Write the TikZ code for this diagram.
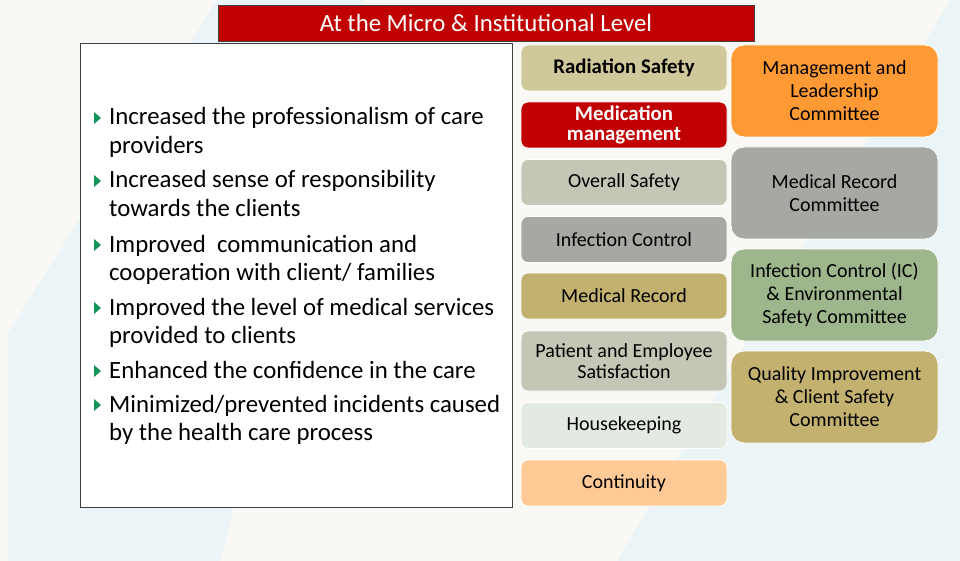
\documentclass[tikz,border=0pt]{standalone}
\usepackage{fontspec}
\setmainfont{Carlito}
\usetikzlibrary{calc}

\definecolor{bgwhite}{HTML}{F9F8F4}
\definecolor{bgblue}{HTML}{EBF5F8}
\definecolor{titlered}{HTML}{C00000}
\definecolor{edgegray}{HTML}{404040}
\definecolor{tickgreen}{HTML}{12955A}
\definecolor{sand}{HTML}{CFC89A}
\definecolor{sage}{HTML}{C4C6B6}
\definecolor{stone}{HTML}{A5A8A3}
\definecolor{khaki}{HTML}{C3B170}
\definecolor{mist}{HTML}{E2EAE2}
\definecolor{peach}{HTML}{FFCA95}
\definecolor{amber}{HTML}{FF9933}
\definecolor{moss}{HTML}{9EB68C}

\begin{document}
\begin{tikzpicture}[x=1pt,y=-1pt,
  box/.style={rounded corners=7pt, draw=white, line width=0.8pt, minimum width=206pt,
    minimum height=46pt, align=center, inner sep=2pt, font=\fontsize{20}{21}\selectfont},
  cbox/.style={box, rounded corners=13pt, minimum width=207pt, minimum height=92pt,
    font=\fontsize{20}{23}\selectfont},
  item/.style={anchor=base west, align=left, inner sep=0pt, font=\fontsize{24.8}{28.5}\selectfont}]

  % background
  \fill[bgwhite] (0,0) rectangle (960,561);
  \fill[bgblue] (217,0) -- (364,0) -- (220,561) -- (8,561) -- (8,333) -- cycle;
  \fill[bgblue] (950,0) -- (960,0) -- (960,561) -- (617,561) -- cycle;

  % heading
  \node[fill=titlered, draw=edgegray, line width=0.8pt, minimum width=536pt, minimum height=36pt,
    text=white, font=\fontsize{24.8}{26}\selectfont] (title) at (486,23) {At the Micro \& Institutional Level};

  % outcomes (nodes sit on the baseline of their last line)
  \node[draw=edgegray, line width=0.8pt, fill=white, minimum width=432pt, minimum height=464pt] (panel) at (296,275) {};

  \node[item] (b1) at (109,153.5) {Increased the professionalism of care\\providers};
  \node[item] (b2) at (109,216.5) {Increased sense of responsibility\\towards the clients};
  \node[item] (b3) at (109,280.5) {Improved~ communication and\\cooperation with client/ families};
  \node[item] (b4) at (109,343.5) {Improved the level of medical services\\provided to clients};
  \node[item] (b5) at (109,378) {Enhanced the confidence in the care};
  \node[item] (b6) at (109,440.5) {Minimized/prevented incidents caused\\by the health care process};

  % bullet ticks on the first lines
  \foreach \y in {125,188,252,315,378,412}
    \fill[tickgreen] (94,\y-13) -- ++(0,12) -- ++(7,-6) -- cycle;

  % areas
  \node[box, fill=sand, font=\fontsize{20.8}{21}\selectfont\bfseries] (rad) at (624,68) {Radiation Safety};
  \node[box, fill=titlered, text=white, font=\fontsize{20.8}{20.5}\selectfont\bfseries] (med) at (624,125) {Medication\\management};
  \node[box, fill=sage] (overall) at (624,182.5) {Overall Safety};
  \node[box, fill=stone] (infect) at (624,239.5) {Infection Control};
  \node[box, fill=khaki] (record) at (624,296) {Medical Record};
  \node[box, fill=sage, minimum height=60pt] (satis) at (624,361) {Patient and Employee\\Satisfaction};
  \node[box, fill=mist] (house) at (624,425.5) {Housekeeping};
  \node[box, fill=peach] (cont) at (624,483) {Continuity};

  % committees
  \node[cbox, fill=amber] (lead) at (834.5,91) {Management and\\Leadership\\Committee};
  \node[cbox, fill=stone] (mrc) at (834.5,193) {Medical Record\\Committee};
  \node[cbox, fill=moss] (icc) at (834.5,295) {Infection Control (IC)\\\& Environmental\\Safety Committee};
  \node[cbox, fill=khaki] (qic) at (834.5,397) {Quality Improvement\\\& Client Safety\\Committee};
\end{tikzpicture}
\end{document}
